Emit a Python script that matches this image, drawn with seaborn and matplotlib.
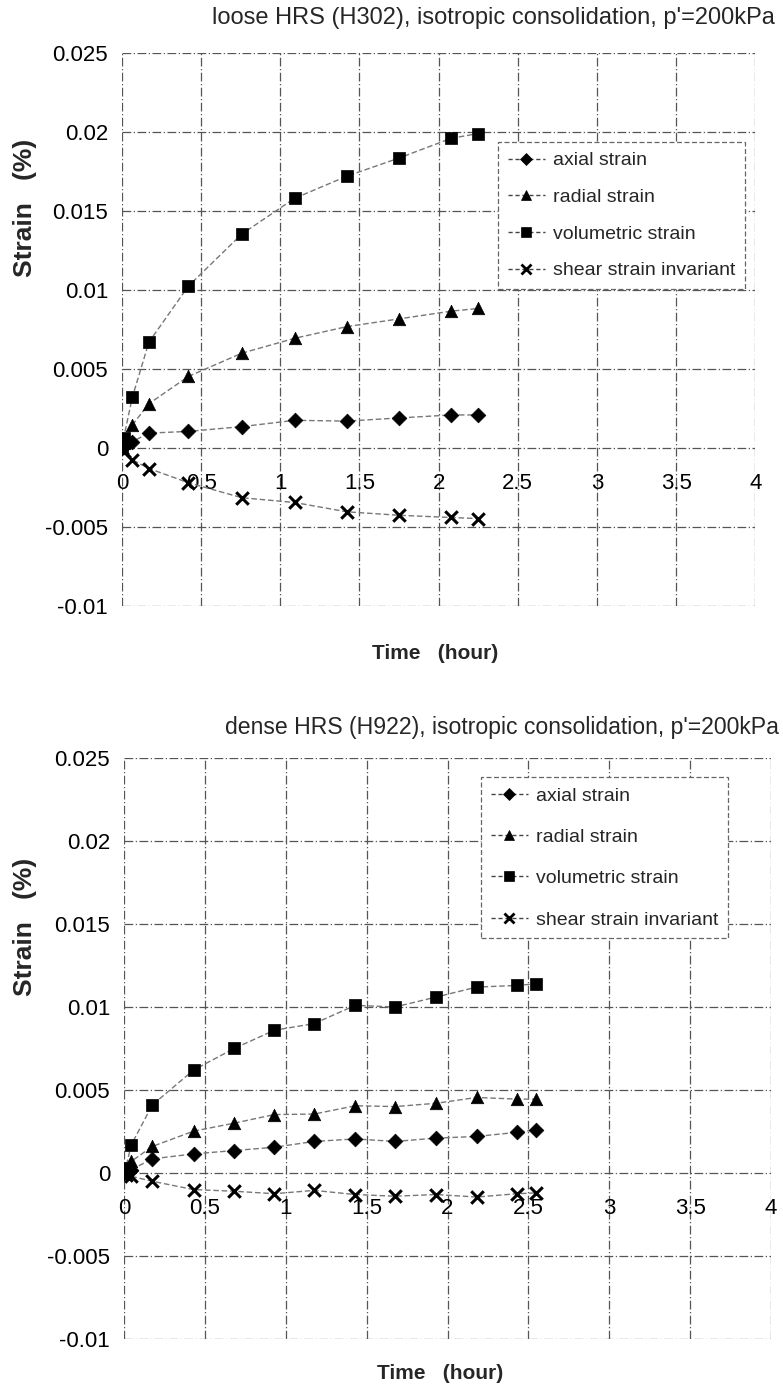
import matplotlib
matplotlib.use("Agg")
import matplotlib.pyplot as plt
from matplotlib.lines import Line2D
from matplotlib.ticker import FuncFormatter
import numpy as np
import pandas as pd
import seaborn as sns

# ---------------- data ----------------
series_names = ["axial strain", "radial strain", "volumetric strain", "shear strain invariant"]

loose_time = [0.0, 0.01, 0.065, 0.17, 0.42, 0.757, 1.09, 1.42, 1.75, 2.08, 2.25]
loose_axial = [0.0, 0.0001, 0.0004, 0.00094, 0.00105, 0.00135, 0.00175, 0.00170, 0.0019, 0.00209, 0.00209]
loose_radial = [0.0, 0.0003, 0.00145, 0.0028, 0.00453, 0.0060, 0.00694, 0.00768, 0.00817, 0.00866, 0.00883]
loose_volumetric = [0.0, 0.0006, 0.0032, 0.0067, 0.01025, 0.01354, 0.0158, 0.0172, 0.01835, 0.0196, 0.0199]
loose_shear = [0.0, -0.0002, -0.00075, -0.0013, -0.0022, -0.00315, -0.00345, -0.00404, -0.00426, -0.0044, -0.00447]

dense_time = [0.0, 0.01, 0.045, 0.175, 0.43, 0.68, 0.93, 1.175, 1.43, 1.675, 1.93, 2.18, 2.43, 2.55]
dense_axial = [0.0, 0.0001, 0.0002, 0.00085, 0.00115, 0.00135, 0.00155, 0.0019, 0.00205, 0.0019, 0.0021, 0.0022, 0.00245, 0.0026]
dense_radial = [0.0, 0.0002, 0.0007, 0.0016, 0.00252, 0.0030, 0.00352, 0.00355, 0.00405, 0.0040, 0.0042, 0.00455, 0.00445, 0.00445]
dense_volumetric = [0.0, 0.0003, 0.0017, 0.0041, 0.0062, 0.0075, 0.0086, 0.0090, 0.0101, 0.0100, 0.0106, 0.0112, 0.0113, 0.0114]
dense_shear = [0.0, -0.0001, -0.0002, -0.0005, -0.001, -0.0011, -0.00125, -0.00105, -0.0013, -0.0014, -0.0013, -0.00145, -0.00125, -0.0012]

titles = ["loose HRS (H302), isotropic consolidation, p'=200kPa",
          "dense HRS (H922), isotropic consolidation, p'=200kPa"]
x_ticks = [0, 0.5, 1, 1.5, 2, 2.5, 3, 3.5, 4]
y_ticks = [-0.01, -0.005, 0, 0.005, 0.01, 0.015, 0.02, 0.025]

# ---------------- style ----------------
sns.set_theme(style="white")
plt.rcParams["font.family"] = ["Liberation Sans", "DejaVu Sans"]
plt.rcParams["axes.unicode_minus"] = False

mk_real = {"axial strain": "D", "radial strain": "^",
           "volumetric strain": "s", "shear strain invariant": "x"}
msizes = {"axial strain": 7.5, "radial strain": 9,
          "volumetric strain": 9, "shear strain invariant": 9}

fig = plt.figure(figsize=(7.83, 13.94), dpi=100)
ax_top = fig.add_axes([0.1558, 0.5653, 0.8087, 0.3967])
ax_bot = fig.add_axes([0.1584, 0.0395, 0.8263, 0.4167])

grid_ls = (0, (7, 2, 1, 2))


def make_df(t, a, r, v, s):
    frames = []
    for name, vals in zip(series_names, [a, r, v, s]):
        frames.append(pd.DataFrame({"time": t, "strain": vals, "series": name}))
    return pd.concat(frames, ignore_index=True)


def draw(ax, df, title, title_xy, title_size, xlabel_xy, ylabel_xy, legend_box, lspace):
    for name in series_names:
        sub = df[df["series"] == name]
        sns.lineplot(data=sub, x="time", y="strain", ax=ax, estimator=None, sort=False,
                     color="#777777", linewidth=1.0, linestyle=(0, (4, 2)), legend=False)
        sns.scatterplot(data=sub, x="time", y="strain", ax=ax, marker=mk_real[name],
                        s=msizes[name] ** 2, color="black", edgecolor="black",
                        linewidth=2.2 if name == "shear strain invariant" else 0.5,
                        legend=False, zorder=5)
    ax.set_xlim(0, 4)
    ax.set_ylim(-0.01, 0.025)
    ax.set_xticks(x_ticks)
    ax.set_yticks(y_ticks)
    ax.xaxis.set_major_formatter(FuncFormatter(lambda v, p: "%g" % v))
    ax.yaxis.set_major_formatter(FuncFormatter(lambda v, p: "%g" % round(v, 4)))
    ax.grid(True, color="#555555", linestyle=grid_ls, linewidth=0.9)
    for sp in ["top", "right", "left"]:
        ax.spines[sp].set_visible(False)
    ax.spines["bottom"].set_position(("data", 0))
    ax.spines["bottom"].set_visible(False)
    ax.tick_params(axis="x", length=0, pad=18, labelsize=16, colors="black")
    ax.tick_params(axis="y", length=0, pad=10, labelsize=16, colors="black")
    ax.set_xlabel("Time   (hour)", fontsize=15, fontweight="bold")
    ax.set_ylabel("Strain   (%)", fontsize=19, fontweight="bold")
    ax.xaxis.set_label_coords(*xlabel_xy)
    ax.yaxis.set_label_coords(*ylabel_xy)
    ax.text(title_xy[0], title_xy[1], title, transform=ax.transAxes, ha="right",
            va="center", fontsize=title_size)
    handles = [Line2D([0], [0], color="#444444", linestyle=(0, (3, 2)), linewidth=1.0,
                      marker=mk_real[n], markersize=msizes[n] * 0.8, markerfacecolor="black",
                      markeredgecolor="black",
                      markeredgewidth=2.0 if n == "shear strain invariant" else 0.5)
               for n in series_names]
    leg = ax.legend(handles, series_names, loc="upper left", bbox_to_anchor=legend_box,
                    fontsize=14, frameon=True, handlelength=1.9, handletextpad=0.4,
                    labelspacing=lspace, borderpad=0.5, borderaxespad=0.0,
                    fancybox=False, framealpha=1)
    leg.get_frame().set_edgecolor("#666666")
    leg.get_frame().set_linestyle((0, (4, 2)))
    leg.get_frame().set_linewidth(0.9)


df_loose = make_df(loose_time, loose_axial, loose_radial, loose_volumetric, loose_shear)
df_dense = make_df(dense_time, dense_axial, dense_radial, dense_volumetric, dense_shear)

draw(ax_top, df_loose, titles[0], (1.0316, 1.063), 17, (0.494, -0.068), (-0.135, 0.72),
     (0.594, 0.839), 0.98)
draw(ax_bot, df_dense, titles[1], (1.012, 1.053), 16.6, (0.488, -0.044), (-0.135, 0.71),
     (0.552, 0.967), 1.22)

fig.savefig("out.png", dpi=100, facecolor="white")
